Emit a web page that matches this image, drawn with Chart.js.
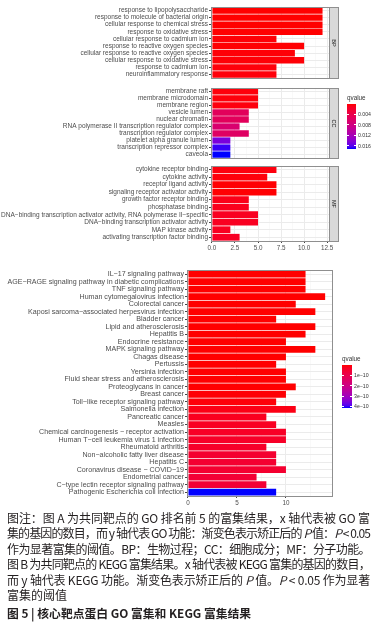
<!DOCTYPE html>
<html><head><meta charset="utf-8">
<script src="https://cdn.jsdelivr.net/npm/chart.js@4.4.0/dist/chart.umd.min.js"></script>
<style>
html,body{margin:0;padding:0;background:#fff;width:378px;height:628px;overflow:hidden;}
.box{position:absolute;left:0;width:378px;}
.lg{position:absolute;font-family:"Liberation Sans",Arial,sans-serif;color:#333;white-space:nowrap;}
.cap{position:absolute;left:7px;width:363px;font-family:"Noto Sans CJK SC",sans-serif;font-size:12px;line-height:15.4px;color:#231f20;}
.cap div{white-space:nowrap;}
.cap span.ln{display:inline-block;white-space:nowrap;}
.cap i{font-style:italic;}
</style></head>
<body>
<div class="box" style="top:2px;height:81px"><canvas id="bp"></canvas></div>
<div class="box" style="top:83px;height:80px"><canvas id="cc"></canvas></div>
<div class="box" style="top:161px;height:92px"><canvas id="mf"></canvas></div>
<div class="box" style="top:265px;height:245px"><canvas id="kegg"></canvas></div>
<div id="legends"></div>
<div class="cap" style="top:510px">
<div><span class="ln j">图注：图 A 为共同靶点的 GO 排名前 5 的富集结果，x 轴代表被 GO 富</span></div>
<div><span class="ln j">集的基因的数目，而 y 轴代表 GO 功能：渐变色表示矫正后的 <i>P</i> 值：<i>P</i> &lt; 0.05</span></div>
<div><span class="ln j">作为显著富集的阈值。BP：生物过程；CC：细胞成分；MF：分子功能。</span></div>
<div><span class="ln j">图 B 为共同靶点的 KEGG 富集结果。x 轴代表被 KEGG 富集的基因的数目，</span></div>
<div><span class="ln j">而 y 轴代表 KEGG 功能。渐变色表示矫正后的 <i>P</i> 值。<i>P</i> &lt; 0.05 作为显著</span></div>
<div><span class="ln">富集的阈值</span></div>
<div style="font-weight:bold;margin-top:2.5px;font-size:11.8px"><span class="ln">图 5 | 核心靶点蛋白 GO 富集和 KEGG 富集结果</span></div>
</div>
<script>
// ---------- DATA ----------
const bpLabels = ["response to lipopolysaccharide","response to molecule of bacterial origin","cellular response to chemical stress","response to oxidative stress","cellular response to cadmium ion","response to reactive oxygen species","cellular response to reactive oxygen species","cellular response to oxidative stress","response to cadmium ion","neuroinflammatory response"];
const bpCount = [12,12,12,12,7,10,9,10,7,7];
const bpQ = [0.00001,0.00001,0.00002,0.00003,0.0002,0.0001,0.0002,0.0002,0.0003,0.0003];

const ccLabels = ["membrane raft","membrane microdomain","membrane region","vesicle lumen","nuclear chromatin","RNA polymerase II transcription regulator complex","transcription regulator complex","platelet alpha granule lumen","transcription repressor complex","caveola"];
const ccCount = [5,5,5,4,4,3,4,2,2,2];
const ccQ = [0.0003,0.0003,0.0004,0.0052,0.0052,0.0066,0.0058,0.0147,0.0167,0.0172];

const mfLabels = ["cytokine receptor binding","cytokine activity","receptor ligand activity","signaling receptor activator activity","growth factor receptor binding","phosphatase binding","DNA\u2212binding transcription activator activity, RNA polymerase II\u2212specific","DNA\u2212binding transcription activator activity","MAP kinase activity","activating transcription factor binding"];
const mfCount = [7,6,7,7,4,4,5,5,2,3];
const mfQ = [0.0004,0.0003,0.0001,0.0001,0.0008,0.0010,0.0012,0.0012,0.0012,0.0014];

const goTicks = [0,1.25,2.5,3.75,5,6.25,7.5,8.75,10,11.25,12.5];
const goTickLabels = {0:"0.0",2.5:"2.5",5:"5.0",7.5:"7.5",10:"10.0",12.5:"12.5"};
const goLegendTicks = [0.004,0.008,0.012,0.016];
const goLegendLabels = ["0.004","0.008","0.012","0.016"];

const keggLabels = ["IL\u221217 signaling pathway","AGE\u2212RAGE signaling pathway in diabetic complications","TNF signaling pathway","Human cytomegalovirus infection","Colorectal cancer","Kaposi sarcoma\u2212associated herpesvirus infection","Bladder cancer","Lipid and atherosclerosis","Hepatitis B","Endocrine resistance","MAPK signaling pathway","Chagas disease","Pertussis","Yersinia infection","Fluid shear stress and atherosclerosis","Proteoglycans in cancer","Breast cancer","Toll\u2212like receptor signaling pathway","Salmonella infection","Pancreatic cancer","Measles","Chemical carcinogenesis \u2212 receptor activation","Human T\u2212cell leukemia virus 1 infection","Rheumatoid arthritis","Non\u2212alcoholic fatty liver disease","Hepatitis C","Coronavirus disease \u2212 COVID\u221219","Endometrial cancer","C\u2212type lectin receptor signaling pathway","Pathogenic Escherichia coli infection"];
const keggCount = [12,12,12,14,11,13,9,13,12,10,13,10,9,10,10,11,10,9,11,8,9,10,10,8,9,9,10,7,8,9];
const keggQ = [1e-15,1e-15,2e-15,1e-16,5e-15,1e-15,2e-14,2e-15,5e-15,1e-13,1e-14,2e-13,5e-13,5e-13,6e-13,1e-12,3e-12,6e-12,1.5e-11,2.6e-11,3e-11,3.6e-11,3.8e-11,4.2e-11,5e-11,5.2e-11,5e-11,5.8e-11,6e-11,4.15e-10];
const keggTicks = [0,2.5,5,7.5,10,12.5];
const keggTickLabels = {0:"0",5:"5",10:"10"};
const keggLegendTicks = [1e-10,2e-10,3e-10,4e-10];
const keggLegendLabels = ["1e\u221210","2e\u221210","3e\u221210","4e\u221210"];

// ---------- colour (ggplot Lab gradient red -> blue) ----------
function s2l(c){c/=255;return c<=0.04045?c/12.92:Math.pow((c+0.055)/1.055,2.4);}
function l2s(c){c=c<=0.0031308?12.92*c:1.055*Math.pow(Math.max(c,0),1/2.4)-0.055;return Math.round(Math.max(0,Math.min(1,c))*255);}
function rgb2lab(rgb){const r=s2l(rgb[0]),g=s2l(rgb[1]),b=s2l(rgb[2]);
 const X=(0.4124564*r+0.3575761*g+0.1804375*b)/0.95047,Y=0.2126729*r+0.7151522*g+0.0721750*b,Z=(0.0193339*r+0.1191920*g+0.9503041*b)/1.08883;
 const f=t=>t>0.008856?Math.cbrt(t):(7.787*t+16/116);const fx=f(X),fy=f(Y),fz=f(Z);return [116*fy-16,500*(fx-fy),200*(fy-fz)];}
function lab2rgb(l){const fy=(l[0]+16)/116,fx=fy+l[1]/500,fz=fy-l[2]/200;
 const fi=t=>t*t*t>0.008856?t*t*t:(t-16/116)/7.787;const X=fi(fx)*0.95047,Y=fi(fy),Z=fi(fz)*1.08883;
 return `rgb(${l2s(3.2404542*X-1.5371385*Y-0.4985314*Z)},${l2s(-0.9692660*X+1.8760108*Y+0.0415560*Z)},${l2s(0.0556434*X-0.2040259*Y+1.0572252*Z)})`;}
const LOW=rgb2lab([255,0,0]),HIGH=rgb2lab([0,0,255]);
function ramp(t){t=Math.max(0,Math.min(1,t));return lab2rgb([0,1,2].map(i=>LOW[i]+(HIGH[i]-LOW[i])*t));}
function colorsFor(qs,lo,hi){return qs.map(q=>ramp((q-lo)/(hi-lo)));}

const goAll=[...bpQ,...ccQ,...mfQ];
const goMin=Math.min(...goAll),goMax=Math.max(...goAll);
const kMin=Math.min(...keggQ),kMax=Math.max(...keggQ);

// ---------- plugin: panel border + facet strip ----------
const facet={id:'facet',afterDatasetsDraw(chart,args,o){
  const ctx=chart.ctx,a=chart.chartArea;ctx.save();
  ctx.strokeStyle='#8f8f8f';ctx.lineWidth=1;
  const L=Math.round(a.left)+0.5,T=Math.round(a.top)+0.5,W=Math.round(a.right-a.left),H=Math.round(a.bottom-a.top);
  ctx.strokeRect(L,T,W,H);
  if(o.strip){const x=L+W,w=9;ctx.fillStyle='#d9d9d9';ctx.fillRect(x,T,w,H);ctx.strokeRect(x,T,w,H);
    ctx.translate(x+w/2,T+H/2);ctx.rotate(Math.PI/2);ctx.fillStyle='#1a1a1a';
    ctx.font='5.5px "Liberation Sans"';ctx.textAlign='center';ctx.textBaseline='middle';ctx.fillText(o.strip,0,0);}
  ctx.restore();}};

function makeChart(id,labels,values,colors,cfg){
  return new Chart(document.getElementById(id),{
    type:'bar',
    data:{labels:labels,datasets:[{data:values,backgroundColor:colors,borderWidth:0,barPercentage:0.9,categoryPercentage:1}]},
    plugins:[facet],
    options:{indexAxis:'y',responsive:true,maintainAspectRatio:false,animation:false,
      layout:{padding:{top:cfg.pt,bottom:cfg.pb,left:0,right:cfg.pr}},
      plugins:{legend:{display:false},tooltip:{enabled:false},facet:{strip:cfg.strip}},
      scales:{
        x:{type:'linear',min:cfg.min,max:cfg.max,
           afterBuildTicks:s=>{s.ticks=cfg.ticks.map(v=>({value:v}));},
           afterFit:s=>{s.height=cfg.xh;},
           border:{display:false},
           grid:{color:c=>(c.tick&&cfg.tl[c.tick.value]!==undefined)?'#ebebeb':'#f5f5f5',lineWidth:c=>(c.tick&&cfg.tl[c.tick.value]!==undefined)?1:0.6,
                 drawTicks:cfg.xh>0,tickLength:2,tickColor:c=>(c.tick&&cfg.tl[c.tick.value]!==undefined)?'#444':'rgba(0,0,0,0)'},
           ticks:{display:cfg.xh>0,autoSkip:false,maxRotation:0,padding:1,color:'#4d4d4d',font:{family:'Liberation Sans',size:cfg.xf},
                  callback:v=>cfg.tl[v]!==undefined?cfg.tl[v]:''}},
        y:{afterFit:s=>{s.width=cfg.yw;},border:{display:false},
           grid:{offset:false,color:'#ebebeb',lineWidth:1,tickLength:2,tickColor:'#444'},
           ticks:{autoSkip:false,padding:1,color:'#4d4d4d',font:{family:'Liberation Sans',size:cfg.yf}}}
      }}});
}

const goCfg={min:-0.1,max:12.7,ticks:goTicks,tl:goTickLabels,yw:211,pr:49,yf:6.5,xf:6.3};
makeChart('bp',bpLabels,bpCount,colorsFor(bpQ,goMin,goMax),Object.assign({},goCfg,{pt:2,pb:2,xh:0,strip:'BP'}));
makeChart('cc',ccLabels,ccCount,colorsFor(ccQ,goMin,goMax),Object.assign({},goCfg,{pt:2,pb:2,xh:0,strip:'CC'}));
makeChart('mf',mfLabels,mfCount,colorsFor(mfQ,goMin,goMax),Object.assign({},goCfg,{pt:2,pb:0,xh:12,strip:'MF'}));
makeChart('kegg',keggLabels,keggCount,colorsFor(keggQ,kMin,kMax),{min:-0.1,max:14.7,ticks:keggTicks,tl:keggTickLabels,yw:187,pr:46,yf:7.1,xf:6.3,pt:4,pb:2,xh:12,strip:null});

// ---------- colourbar legends ----------
function legend(x,y,w,h,lo,hi,ticks,labs){
  const root=document.getElementById('legends');
  const stops=[];for(let i=0;i<=20;i++){stops.push(ramp(i/20)+' '+(i*5)+'%');}
  let html=`<div class="lg" style="left:${x}px;top:${y-10}px;font-size:6.3px">qvalue</div>`;
  html+=`<div style="position:absolute;left:${x}px;top:${y}px;width:${w}px;height:${h}px;background:linear-gradient(to bottom,${stops.join(',')})"></div>`;
  ticks.forEach((t,i)=>{const yy=y+(t-lo)/(hi-lo)*h;
    html+=`<div style="position:absolute;left:${x}px;top:${yy-0.5}px;width:2px;height:1px;background:#fff"></div>`;
    html+=`<div style="position:absolute;left:${x+w-2}px;top:${yy-0.5}px;width:2px;height:1px;background:#fff"></div>`;
    html+=`<div class="lg" style="left:${x+w+2}px;top:${yy-3}px;font-size:5.2px;line-height:6px">${labs[i]}</div>`;});
  root.insertAdjacentHTML('beforeend',html);
}
legend(347,104,9,45,goMin,goMax,goLegendTicks,goLegendLabels);
legend(342,365,10,43,kMin,kMax,keggLegendTicks,keggLegendLabels);

// ---------- caption justification (fit each full line to the column width) ----------
document.fonts.ready.then(()=>{
  const W=363;
  document.querySelectorAll('.cap span.j').forEach(s=>{
    s.style.letterSpacing='0px';
    const n=s.textContent.length;
    const nat=s.getBoundingClientRect().width;
    s.style.letterSpacing=((W-nat)/n)+'px';
  });
});
</script>
</body></html>
